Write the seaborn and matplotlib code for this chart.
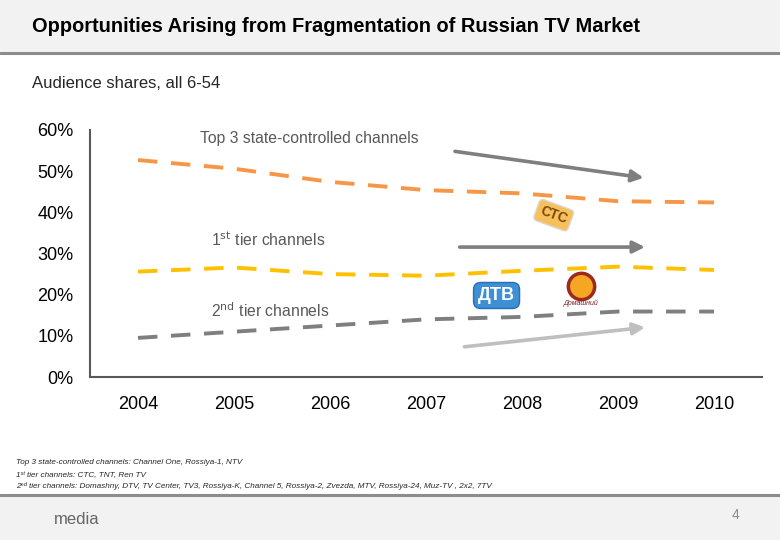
import matplotlib
matplotlib.use('Agg')
import matplotlib.pyplot as plt
from matplotlib.patches import Rectangle
from matplotlib.ticker import PercentFormatter
import seaborn as sns
import pandas as pd

years = [2004, 2005, 2006, 2007, 2008, 2009, 2010]
top3_state = [0.527, 0.506, 0.474, 0.454, 0.446, 0.427, 0.424]
tier1 = [0.256, 0.266, 0.250, 0.246, 0.258, 0.268, 0.260]
tier2 = [0.095, 0.110, 0.125, 0.140, 0.146, 0.159, 0.159]
series_names = ['Top 3 state-controlled channels', '1st tier channels', '2nd tier channels']
y_ticks = [0, 0.1, 0.2, 0.3, 0.4, 0.5, 0.6]

df = pd.DataFrame({
    'year': years * 3,
    'share': top3_state + tier1 + tier2,
    'group': [series_names[0]] * 7 + [series_names[1]] * 7 + [series_names[2]] * 7,
})

sns.set_style('white')
plt.rcParams['font.family'] = ['Liberation Sans', 'DejaVu Sans']

fig = plt.figure(figsize=(7.8, 5.4), dpi=100)

# header and footer bands
fig.patches.append(Rectangle((0, 1 - 52 / 540), 1, 52 / 540, transform=fig.transFigure,
                             facecolor='#f2f2f2', edgecolor='none', zorder=0))
fig.lines.append(plt.Line2D([0, 1], [1 - 53 / 540, 1 - 53 / 540], transform=fig.transFigure,
                            color='#8c8c8c', lw=2.2))
fig.patches.append(Rectangle((0, 0), 1, 44 / 540, transform=fig.transFigure,
                             facecolor='#f2f2f2', edgecolor='none', zorder=0))
fig.lines.append(plt.Line2D([0, 1], [45 / 540, 45 / 540], transform=fig.transFigure,
                            color='#8c8c8c', lw=2.2))

fig.text(32 / 780, 1 - 27 / 540, 'Opportunities Arising from Fragmentation of Russian TV Market',
         fontsize=14.4, fontweight='bold', va='center', ha='left', color='black')
fig.text(32 / 780, 1 - 84 / 540, 'Audience shares, all 6-54', fontsize=12, va='center', ha='left')

ax = fig.add_axes([90 / 780, 163 / 540, 672 / 780, 247 / 540])
palette = {series_names[0]: '#f79646', series_names[1]: '#ffc000', series_names[2]: '#7f7f7f'}
sns.lineplot(data=df, x='year', y='share', hue='group', palette=palette, ax=ax,
             legend=False, lw=2.8)
for line in ax.lines:
    line.set_dashes([5, 3.5])

ax.set_xlim(2003.5, 2010.5)
ax.set_ylim(0, 0.6)
ax.set_xticks(years)
ax.set_yticks(y_ticks)
ax.yaxis.set_major_formatter(PercentFormatter(1.0, decimals=0))
ax.tick_params(axis='both', labelsize=13, length=0, colors='black')
ax.tick_params(axis='x', pad=14)
ax.tick_params(axis='y', pad=12)
ax.set_xlabel('')
ax.set_ylabel('')
sns.despine(ax=ax)
for side in ['left', 'bottom']:
    ax.spines[side].set_color('#595959')
    ax.spines[side].set_linewidth(1.5)

# series labels
ax.text(0.163, 0.965, 'Top 3 state-controlled channels', transform=ax.transAxes,
        fontsize=11.3, color='#595959', va='center')
ax.text(0.180, 0.555, '1$^{\\mathrm{st}}$ tier channels', transform=ax.transAxes,
        fontsize=11.3, color='#595959', va='center')
ax.text(0.180, 0.27, '2$^{\\mathrm{nd}}$ tier channels', transform=ax.transAxes,
        fontsize=11.3, color='#595959', va='center')

# trend arrows
arrow_dark = dict(arrowstyle='-|>,head_length=0.7,head_width=0.35', color='#7f7f7f', lw=2.6)
arrow_light = dict(arrowstyle='-|>,head_length=0.7,head_width=0.35', color='#bfbfbf', lw=2.6)
ax.annotate('', xy=(0.828, 0.805), xytext=(0.539, 0.915), xycoords='axes fraction',
            textcoords='axes fraction', arrowprops=arrow_dark)
ax.annotate('', xy=(0.83, 0.526), xytext=(0.546, 0.526), xycoords='axes fraction',
            textcoords='axes fraction', arrowprops=arrow_dark)
ax.annotate('', xy=(0.83, 0.202), xytext=(0.553, 0.121), xycoords='axes fraction',
            textcoords='axes fraction', arrowprops=arrow_light)

# channel logos (simplified)
ax.text(0.605, 0.33, 'ДТВ', transform=ax.transAxes, fontsize=13, fontweight='bold',
        color='white', ha='center', va='center',
        bbox=dict(boxstyle='round,pad=0.25,rounding_size=0.4', facecolor='#3d8fd6', edgecolor='#2b6fb3'))
ax.scatter([0.73], [0.37], s=360, transform=ax.transAxes, color='#f5a623',
           edgecolor='#9c2a1f', linewidth=2.5, zorder=3)
ax.text(0.73, 0.297, 'Домашний', transform=ax.transAxes, fontsize=5, style='italic',
        color='#7a1f1f', ha='center', va='center')
ax.text(0.69, 0.655, 'СТС', transform=ax.transAxes, fontsize=10, fontweight='bold',
        color='#7a4a10', ha='center', va='center', rotation=-20,
        bbox=dict(boxstyle='round,pad=0.3', facecolor='#f7c05a', edgecolor='#d9d9d9'))

# footnotes
notes = [
    ('Top 3 state-controlled channels: Channel One, Rossiya-1, NTV', 463),
    ('1ˢᵗ tier channels: CTC, TNT, Ren TV', 476),
    ('2ⁿᵈ tier channels: Domashny, DTV, TV Center, TV3, Rossiya-K, Channel 5, Rossiya-2, Zvezda, MTV, Rossiya-24, Muz-TV , 2x2, 7TV', 485.5),
]
for note, ypix in notes:
    fig.text(16 / 780, 1 - ypix / 540, note, fontsize=5.9, style='italic', va='center', ha='left',
             family=['Liberation Sans', 'DejaVu Sans'])

fig.text(54 / 780, 1 - 519 / 540, 'media', fontsize=12, color='#666666', va='center', ha='left')
fig.text(735 / 780, 1 - 515 / 540, '4', fontsize=10, color='#8c8c8c', va='center', ha='center')

fig.savefig('out.png', dpi=100)
